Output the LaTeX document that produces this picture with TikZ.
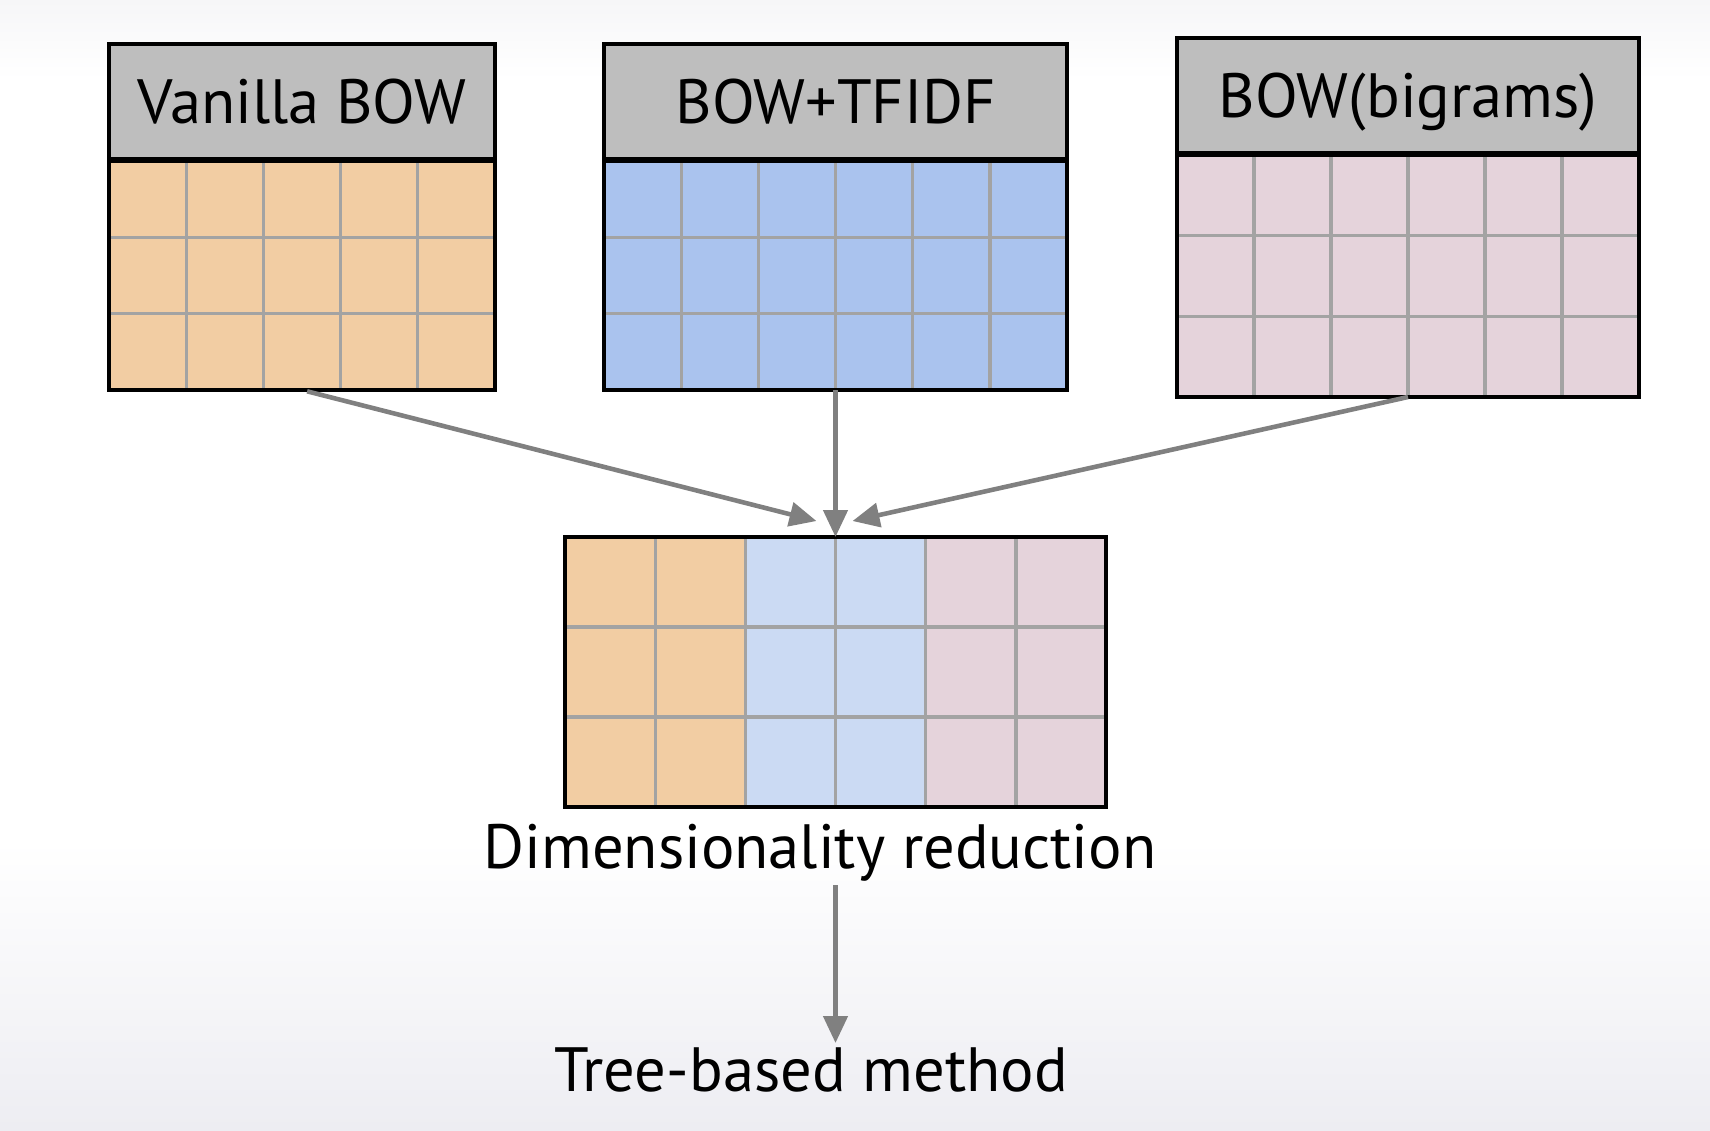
\documentclass[tikz,border=0pt]{standalone}
\usepackage{fontspec}
\setmainfont{PT Sans}
\usepackage{xcolor}
\usepackage{tikz}
\usetikzlibrary{positioning,calc,arrows.meta}

\definecolor{bowOrange}{HTML}{F2CDA3}
\definecolor{bowBlue}{HTML}{AAC3EE}
\definecolor{bowPink}{HTML}{E5D3DB}
\definecolor{bowLight}{HTML}{CBDAF3}
\definecolor{headGray}{HTML}{BEBEBE}
\definecolor{cellGray}{HTML}{A3A3A3}
\definecolor{arrGray}{HTML}{808080}
\definecolor{bgTop}{HTML}{F6F6F8}
\definecolor{bgBot}{HTML}{EDEDF2}

\begin{document}
\begin{tikzpicture}[x=0.1mm, y=-0.1mm,
        head/.style={draw=black, line width=1.2pt, fill=headGray, font=\fontsize{17.8}{20}\selectfont,
            text height=4.4mm, text depth=0pt, inner sep=0pt},
        body/.style={inner sep=0pt, outer sep=0pt},
        cell/.style={draw=cellGray, line width=0.95pt},
        frame/.style={draw=black, line width=1.2pt},
        arr/.style={draw=arrGray, line width=1.3pt, -{Triangle[length=2.7mm,width=2.4mm]}},
        lbl/.style={font=\fontsize{17.8}{20}\selectfont, inner sep=1pt}]
        \useasboundingbox (0,0) rectangle (1710,1130);
        % background
        \fill[white] (0,0) rectangle (1710,1130);
        \shade[top color=bgTop, bottom color=white] (0,0) rectangle (1710,80);
        \shade[top color=white, bottom color=bgBot] (0,840) rectangle (1710,1130);

        % input matrices
        \node[body, fill=bowOrange, minimum width=38.6mm, minimum height=22.9mm] (van) at (302,275.5) {};
        \node[body, fill=bowBlue, minimum width=46.3mm, minimum height=22.9mm] (tfidf) at (835.5,275.5) {};
        \node[body, fill=bowPink, minimum width=46.2mm, minimum height=24.2mm] (big) at (1408,276) {};
        \node[head, minimum width=38.6mm, minimum height=11.5mm, above=0pt of van] (vanhead) {Vanilla BOW};
        \node[head, minimum width=46.3mm, minimum height=11.5mm, above=0pt of tfidf] (tfidfhead) {BOW+TFIDF};
        \node[head, minimum width=46.2mm, minimum height=11.5mm, above=0pt of big] (bighead) {BOW(bigrams)};

        % reduced matrix
        \node[body, minimum width=54.1mm, minimum height=27mm] (red) at (835.5,672) {};
        \fill[bowOrange] (red.north west) rectangle ($(red.south west)!1/3!(red.south east)$);
        \fill[bowLight] ($(red.north west)!1/3!(red.north east)$) rectangle ($(red.south west)!2/3!(red.south east)$);
        \fill[bowPink] ($(red.north west)!2/3!(red.north east)$) rectangle (red.south east);

        % grid lines and frames
        \foreach \t/\n in {van/5,tfidf/6,big/6,red/6}{
            \pgfmathtruncatemacro\m{\n-1}
            \foreach \i in {1,...,\m}
                \draw[cell] ($(\t.north west)!\i/\n!(\t.north east)$) -- ($(\t.south west)!\i/\n!(\t.south east)$);
            \foreach \j in {1,2}
                \draw[cell] ($(\t.north west)!\j/3!(\t.south west)$) -- ($(\t.north east)!\j/3!(\t.south east)$);
            \draw[frame] (\t.north west) rectangle (\t.south east);
        }

        \node[lbl, anchor=base] (dim) at (820,868) {Dimensionality reduction};
        \node[lbl, anchor=base] (tree) at (811,1091) {Tree-based method};

        % arrows
        \coordinate (inl) at ($(red.north)+(-19,-16)$);
        \coordinate (inr) at ($(red.north)+(17,-16)$);
        \draw[arr, shorten <=1.5pt] (van.south) -- (inl);
        \draw[arr] (tfidf.south) -- (red.north);
        \draw[arr] (big.south) -- (inr);
        \draw[arr] (dim.south -| red) -- (tree.north -| red);
    \end{tikzpicture}
\end{document}
